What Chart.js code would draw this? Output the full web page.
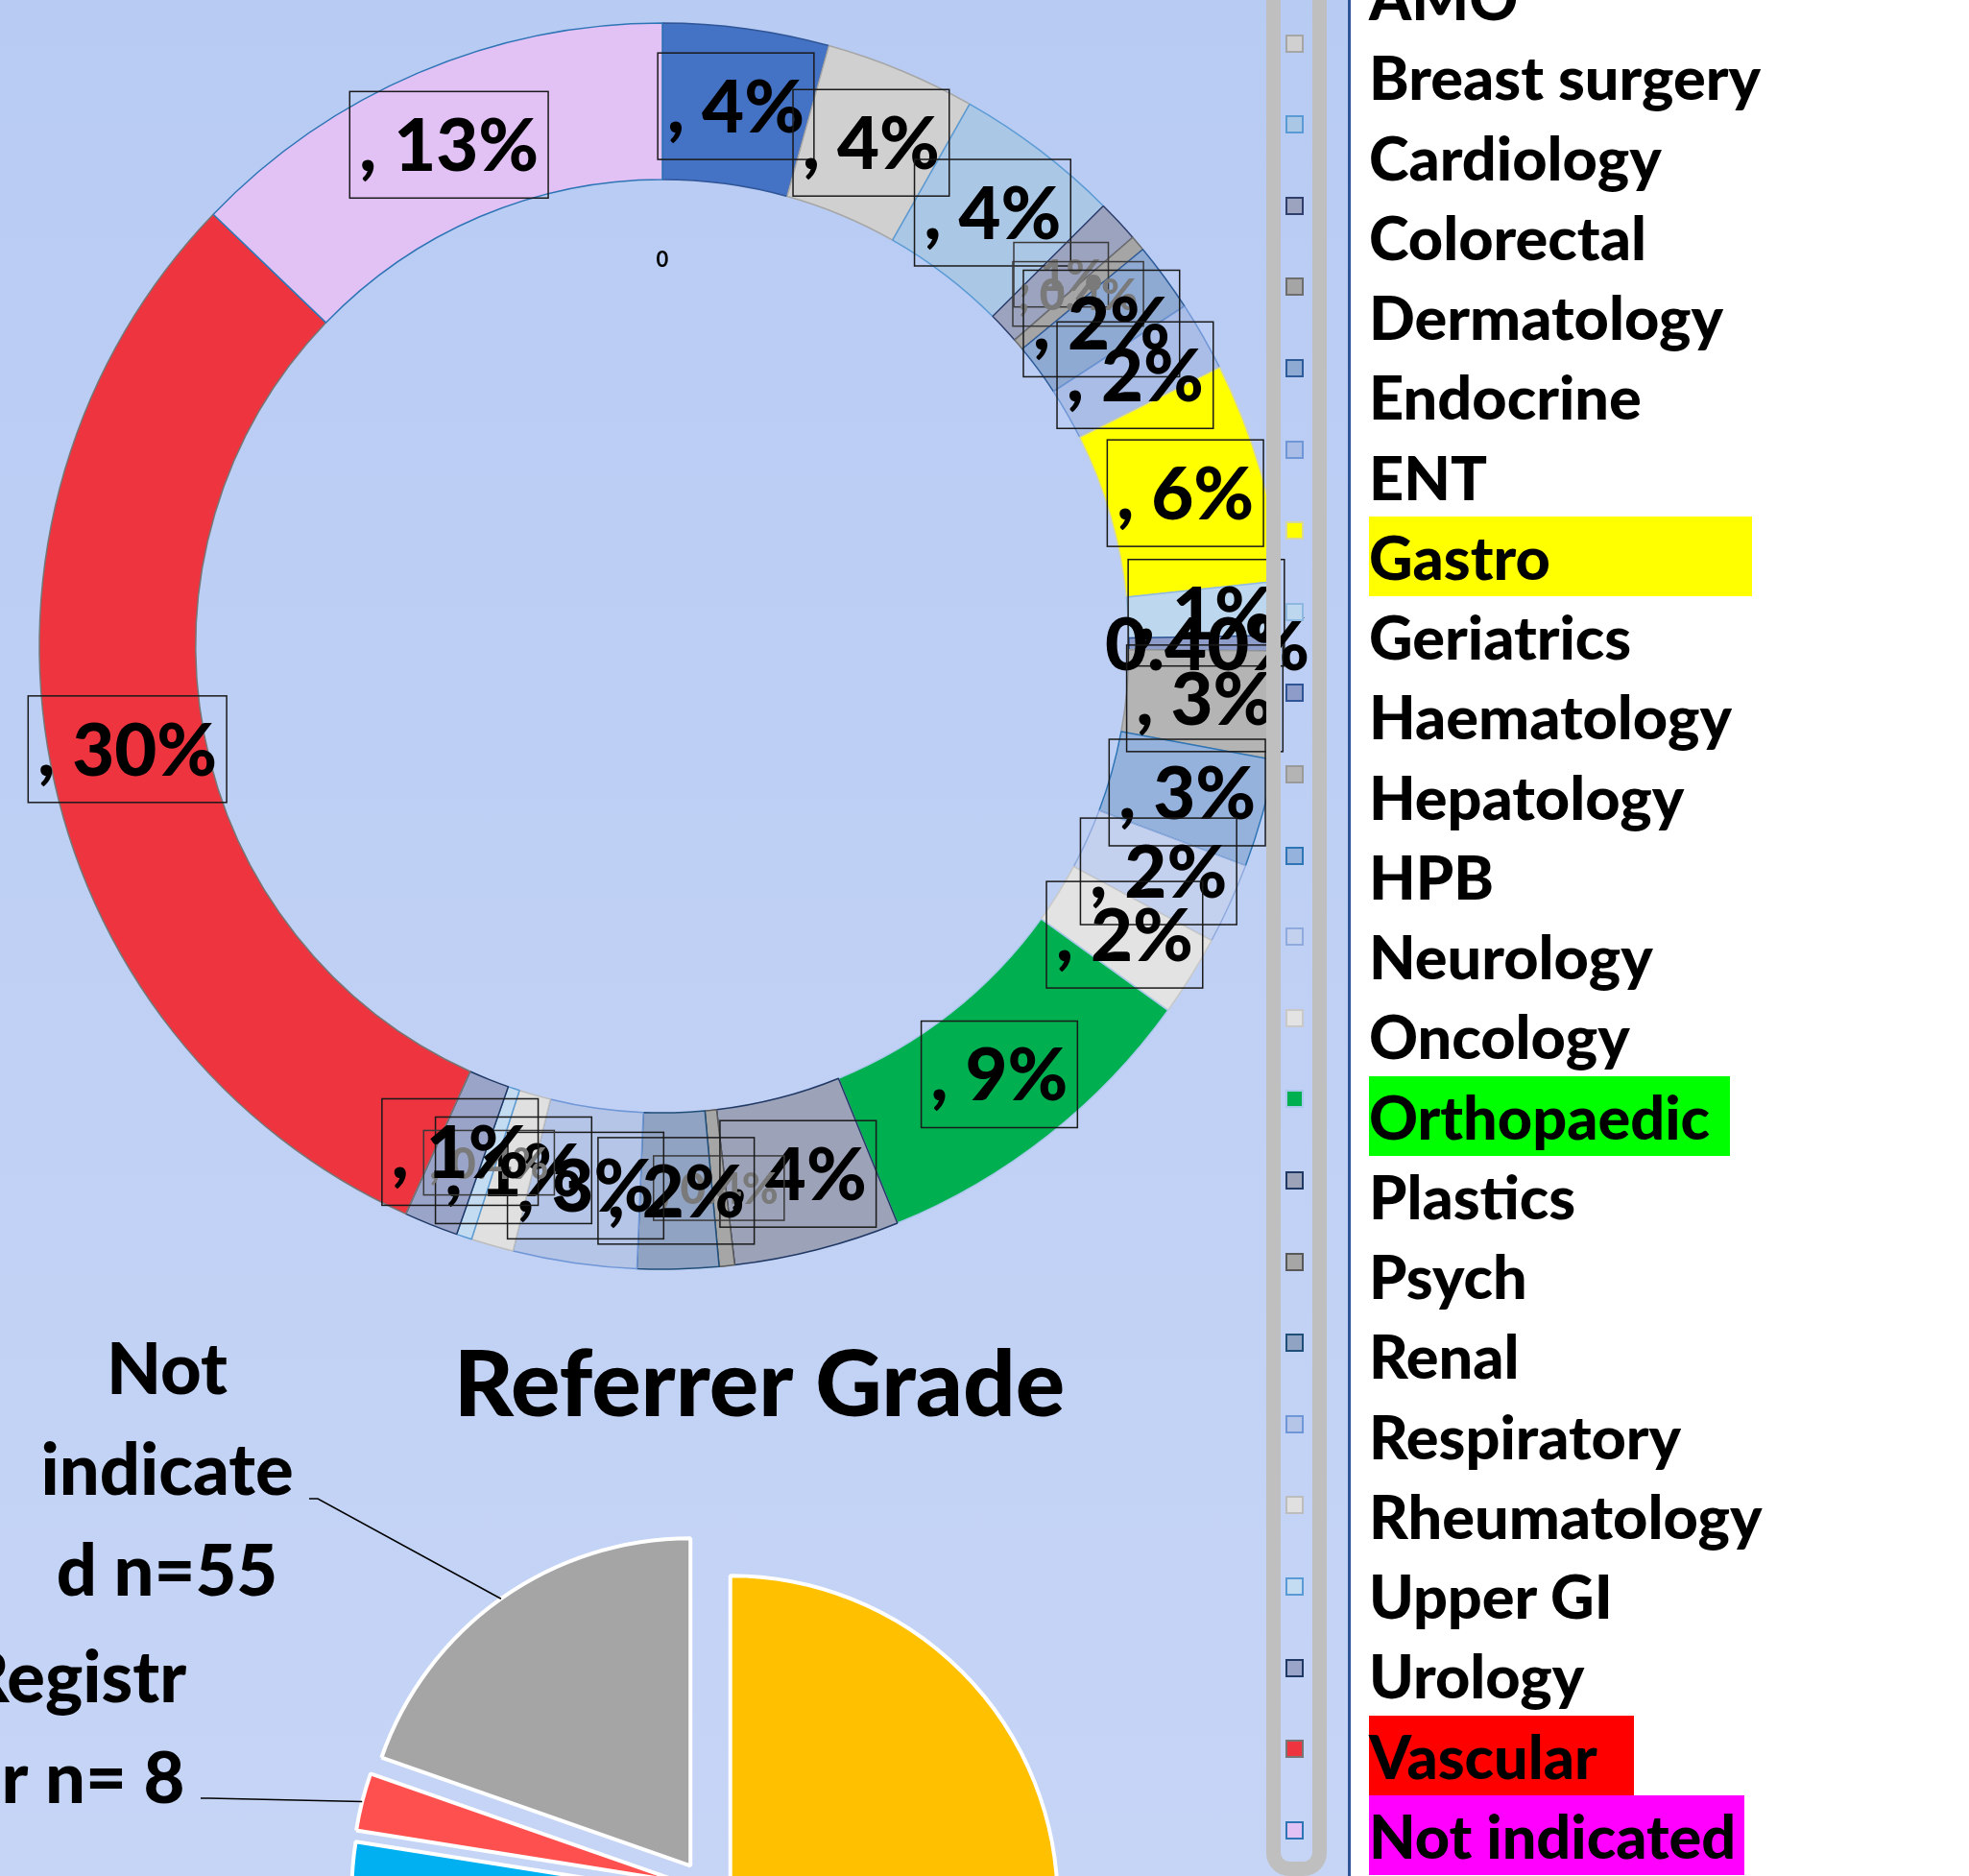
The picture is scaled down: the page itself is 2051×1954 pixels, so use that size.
<!DOCTYPE html>
<html lang="en">
<head>
<meta charset="UTF-8">
<title>Referring Specialty and Referrer Grade</title>
<script src="https://cdn.jsdelivr.net/npm/chart.js"></script>
<style>
  html, body { margin: 0; padding: 0; }
  body {
    width: 2051px; height: 1954px; overflow: hidden; position: relative;
    background: #fff; font-family: Lato, "Open Sans", sans-serif;
  }
  #panel {
    position: absolute; left: 0; top: 0; width: 1404px; height: 1954px;
    background: linear-gradient(#b8cbf3, #c6d5f6);
  }
  canvas { position: absolute; left: 0; }
  #donut { top: 0; }
  #grade { top: 1300px; }
  #frame {
    position: absolute; left: 1319px; top: -30px; width: 33px; height: 1954px;
    border: 15px solid #bfbfbf; border-radius: 0 0 24px 24px;
  }
  #divider { position: absolute; left: 1404px; top: 0; width: 3px; height: 1954px; background: #2f5597; }
  .mark { position: absolute; left: 1339px; width: 15px; height: 15px; border: 2px solid; }
  .name {
    position: absolute; left: 1426px; height: 83px; line-height: 83px;
    font-size: 63px; font-weight: 900; color: #000; white-space: nowrap;
  }
</style>
</head>
<body>
<div id="panel"></div>
<canvas id="donut" width="1380" height="1346"></canvas>
<canvas id="grade" width="1472" height="1334"></canvas>
<div id="frame"></div>
<div id="divider"></div>
<div id="legend"></div>

<script>
// referring specialty, share of referrals (%)
const specialties = ['AMO', 'Breast surgery', 'Cardiology', 'Colorectal', 'Dermatology', 'Endocrine', 'ENT',
  'Gastro', 'Geriatrics', 'Haematology', 'Hepatology', 'HPB', 'Neurology', 'Oncology', 'Orthopaedic',
  'Plastics', 'Psych', 'Renal', 'Respiratory', 'Rheumatology', 'Upper GI', 'Urology', 'Vascular', 'Not indicated'];
const shares = [4.3, 3.9, 4.3, 1.1, 0.4, 1.8, 1.8, 5.7, 1.4, 0.4, 2.8, 2.8, 2.1, 2.1, 8.9,
  4.3, 0.4, 2.1, 3.2, 1.1, 0.4, 1.4, 30.4, 12.8];
const sliceLabels = [', 4%', ', 4%', ', 4%', ', 1%', ', 0.4%', ', 2%', ', 2%', ', 6%', ', 1%', '0.40%',
  ', 3%', ', 3%', ', 2%', ', 2%', ', 9%', ', 4%', ', 0.4%', ', 2%', ', 3%', ', 1%', ', 0.4%', ', 1%',
  ', 30%', ', 13%'];

// referrer grade, counts
const grades = ['Consultant', 'SHO', 'Registrar', 'Not indicated'];
const gradeCounts = [189, 28, 8, 55];
const gradeLabels = [null, null, ['Registr', 'ar n= 8'], ['Not', 'indicate', 'd n=55']];

// styles
const fills = ['#4472c4', '#d0d0d0', '#abc7e6', '#9ca3bf', '#a5a5a5', '#8ea9d2', '#a9bde6', '#ffff00',
  '#bdd7ee', '#8e9cc9', '#b4b4b4', '#95b2dc', '#c3d1ee', '#e3e3e3', '#00b050', '#9ca2b8', '#a6a6a6',
  '#90a3c3', '#b4c5e8', '#e0e0e0', '#c3dcf2', '#9aa4c8', '#ed343f', '#e2c1f5'];
const edges = ['#2f5597', '#a6a6a6', '#5b9bd5', '#2f3e6b', '#6e6e6e', '#2e5c9a', '#6f96d6', '#d6d6a0',
  '#8fb8e0', '#2f5597', '#9a9a9a', '#2e75b6', '#8faadc', '#c8c8c8', '#a9c8ec', '#203864', '#595959',
  '#1f4e79', '#6f96d6', '#bdbdbd', '#5b9bd5', '#1f3864', '#767676', '#2e75b6'];
const labelKinds = ['box', 'box', 'box', 'faint', 'faint', 'box', 'box', 'box', 'box', 'plain', 'box', 'box',
  'box', 'box', 'box', 'box', 'faint', 'box', 'box', 'box', 'faint', 'box', 'box', 'box'];
const highlights = {
  'Gastro': ['#ffff00', 399], 'Orthopaedic': ['#00ff00', 376],
  'Vascular': ['#ff0000', 276], 'Not indicated': ['#ff00ff', 391]
};
const gradeColors = ['#ffc000', '#00b0f0', '#ff5050', '#a5a5a5'];
const gradeLabelOffsets = [null, null, [-658, -169], [-562, -437]];
const gradeLeaderStarts = [null, null, [-527, -94], [-414, -406]];
const explode = 29;
const ringClipX = 1319;

// ---------- doughnut ----------
const clipRing = {
  id: 'clipRing',
  beforeDatasetsDraw(chart) {
    const c = chart.ctx;
    c.save();
    c.beginPath();
    c.rect(0, 0, ringClipX, chart.height);
    c.clip();
  },
  afterDatasetsDraw(chart) {
    chart.ctx.restore();
  }
};

const donutLabels = {
  id: 'donutLabels',
  afterDraw(chart) {
    const c = chart.ctx;
    const arcs = chart.getDatasetMeta(0).data;
    c.save();
    c.textAlign = 'center';
    arcs.forEach((arc, i) => {
      const p = arc.getCenterPoint();
      const kind = labelKinds[i];
      const size = kind === 'faint' ? 46 : 76;
      c.font = '900 ' + size + 'px Lato';
      const w = c.measureText(sliceLabels[i]).width;
      if (kind !== 'plain') {
        const bw = w + size * 0.26, bh = size * 1.46;
        c.strokeStyle = kind === 'faint' ? '#3a3a3a' : '#1a1a1a';
        c.lineWidth = 1.5;
        c.strokeRect(p.x - bw / 2, p.y - bh / 2, bw, bh);
      }
      c.fillStyle = kind === 'faint' ? '#7a7a7a' : '#000';
      c.fillText(sliceLabels[i], p.x, p.y + size * 0.36);
    });
    // stray value label near the top of the hole
    const a0 = arcs[0];
    c.font = 'bold 22px Lato';
    c.fillStyle = '#000';
    c.fillText('0', a0.x, a0.y - 395);
    c.restore();
  }
};

new Chart(document.getElementById('donut'), {
  type: 'doughnut',
  data: {
    labels: specialties,
    datasets: [{ data: shares, backgroundColor: fills, borderColor: edges, borderWidth: 1.5 }]
  },
  options: {
    responsive: false,
    animation: false,
    radius: 649,
    cutout: '74.9%',
    layout: { padding: 0 },
    plugins: { legend: { display: false }, tooltip: { enabled: false } }
  },
  plugins: [clipRing, donutLabels]
});

// ---------- legend ----------
const legend = document.getElementById('legend');
specialties.forEach((name, i) => {
  const m = document.createElement('div');
  m.className = 'mark';
  m.style.top = (45 + (i - 1) * 84.6 - 9.5) + 'px';
  m.style.background = fills[i];
  m.style.borderColor = edges[i];
  legend.appendChild(m);

  const t = document.createElement('div');
  t.className = 'name';
  t.style.top = (-45 + i * 83.25) + 'px';
  t.textContent = name;
  if (highlights[name]) {
    t.style.background = highlights[name][0];
    t.style.width = highlights[name][1] + 'px';
  }
  legend.appendChild(t);
});

// ---------- referrer grade pie ----------
const explodedPie = {
  id: 'explodedPie',
  beforeDatasetsDraw(chart) {
    const c = chart.ctx;
    chart.getDatasetMeta(0).data.forEach(arc => {
      const mid = (arc.startAngle + arc.endAngle) / 2;
      c.save();
      c.translate(Math.cos(mid) * explode, Math.sin(mid) * explode);
      arc.draw(c);
      c.restore();
    });
    return false;
  },
  afterDraw(chart) {
    const c = chart.ctx;
    const arcs = chart.getDatasetMeta(0).data;
    c.save();
    c.textAlign = 'center';
    c.fillStyle = '#000';
    c.font = '900 96px Lato';
    c.fillText('Referrer Grade', 791, 175);

    c.font = '900 74px Lato';
    arcs.forEach((arc, i) => {
      if (!gradeLabels[i]) return;
      const lines = gradeLabels[i];
      const cx = arc.x + gradeLabelOffsets[i][0];
      const cy = arc.y + gradeLabelOffsets[i][1];
      const lh = 105;
      lines.forEach((ln, k) => {
        const y = cy + (k - (lines.length - 1) / 2) * lh;
        c.fillText(ln, cx, y + 27);
      });
      const mid = (arc.startAngle + arc.endAngle) / 2;
      const r = arc.outerRadius + explode;
      const sx = arc.x + gradeLeaderStarts[i][0];
      const sy = arc.y + gradeLeaderStarts[i][1];
      c.beginPath();
      c.strokeStyle = '#000';
      c.lineWidth = 1.5;
      c.moveTo(sx, sy);
      c.lineTo(sx + 9, sy);
      c.lineTo(arc.x + Math.cos(mid) * r, arc.y + Math.sin(mid) * r);
      c.stroke();
    });
    c.restore();
  }
};

new Chart(document.getElementById('grade'), {
  type: 'pie',
  data: {
    labels: grades,
    datasets: [{ data: gradeCounts, backgroundColor: gradeColors, borderColor: '#ffffff', borderWidth: 4 }]
  },
  options: {
    responsive: false,
    animation: false,
    radius: 341,
    layout: { padding: 0 },
    plugins: { legend: { display: false }, tooltip: { enabled: false } }
  },
  plugins: [explodedPie]
});
</script>
</body>
</html>
